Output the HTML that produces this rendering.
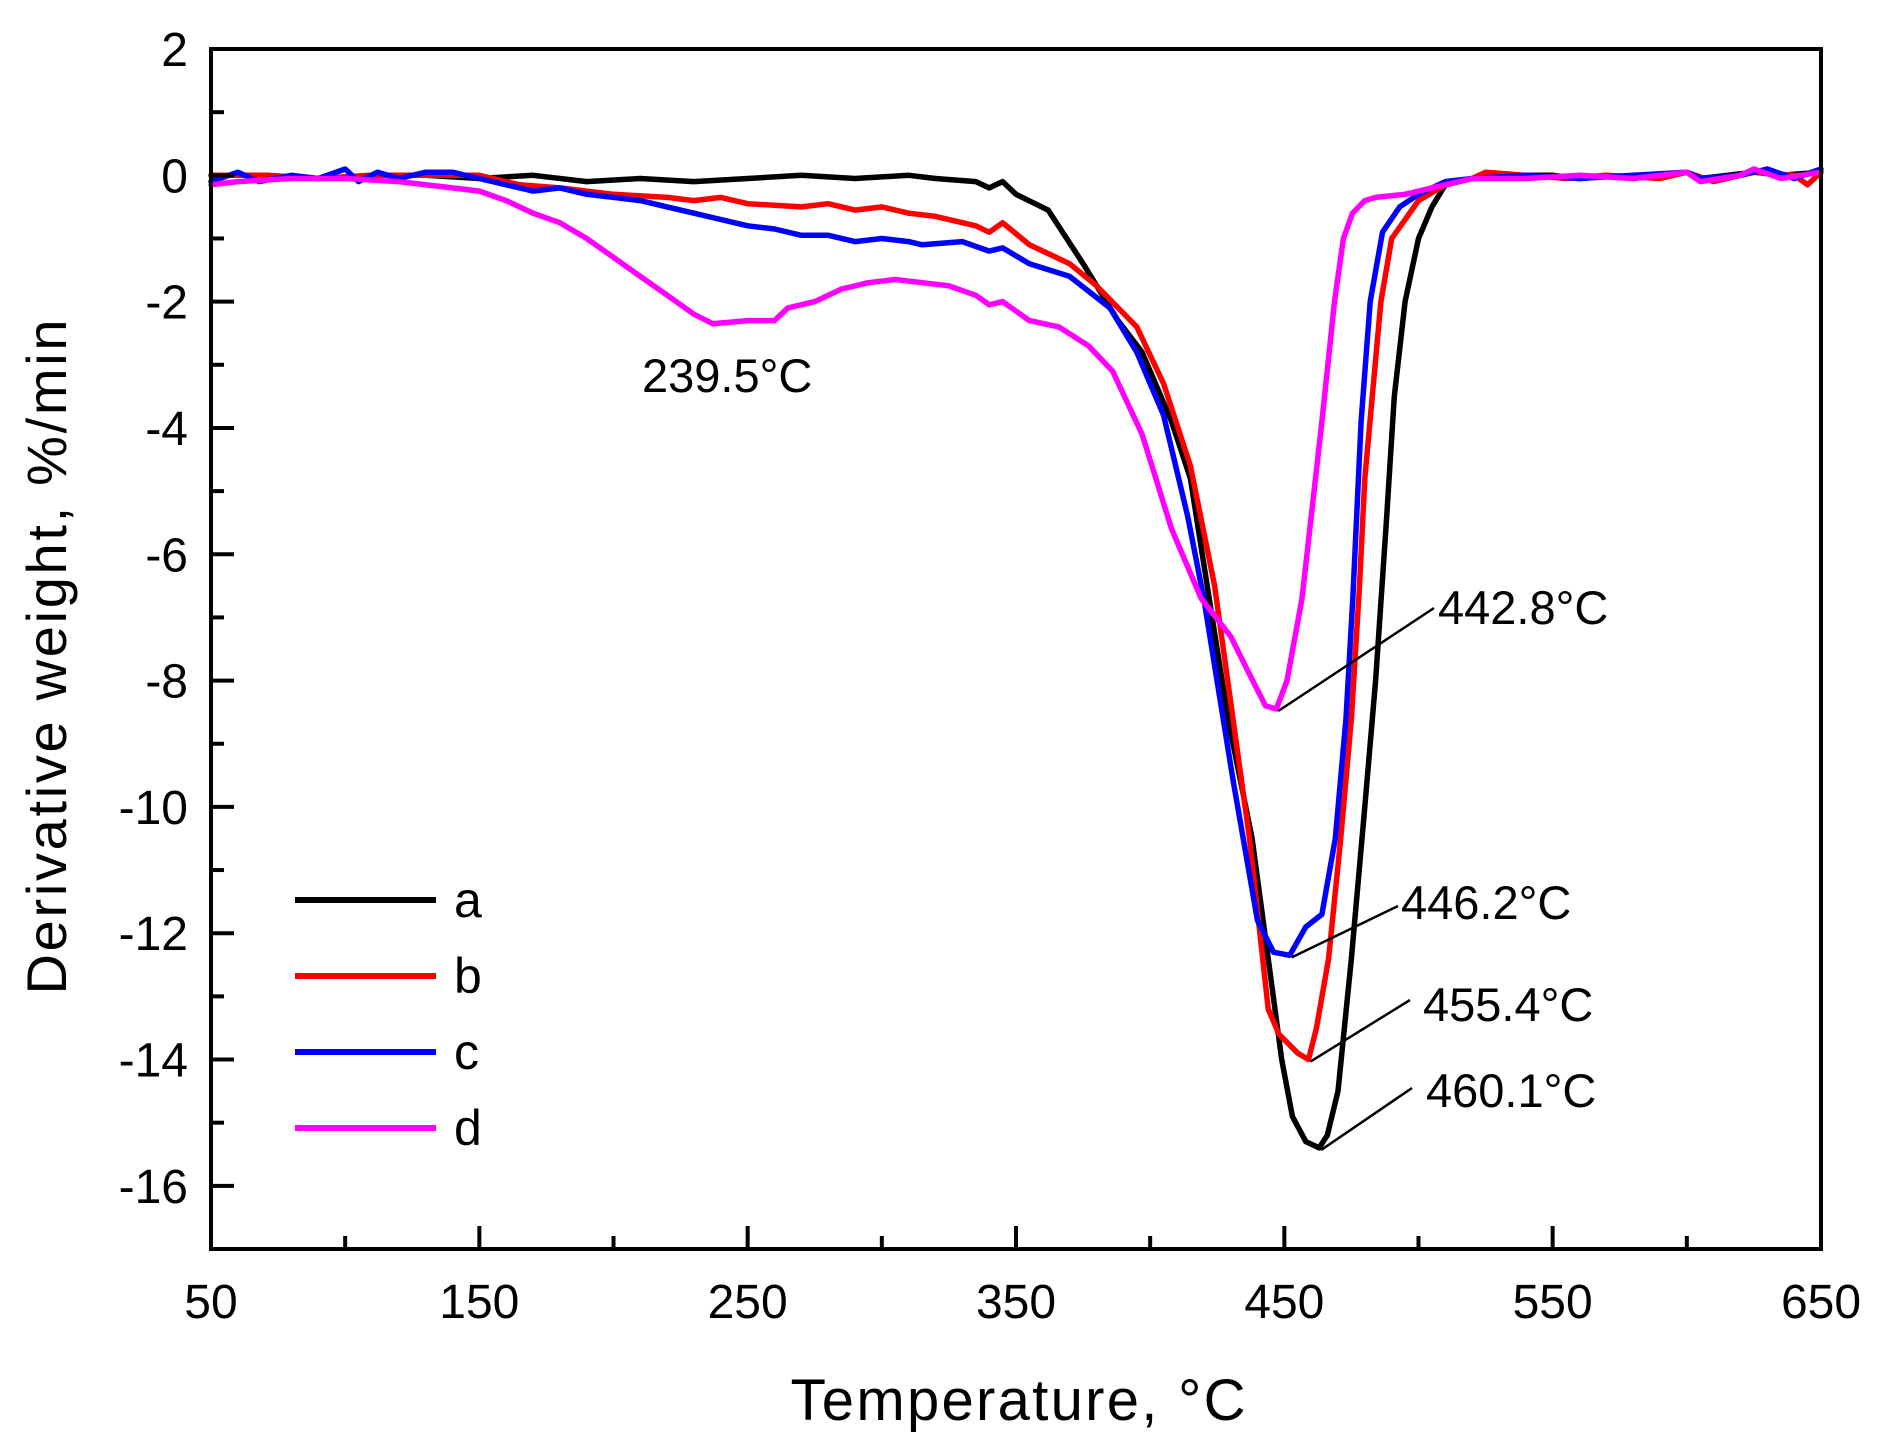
<!DOCTYPE html>
<html><head><meta charset="utf-8"><style>
html,body{margin:0;padding:0;background:#fff;}
svg{display:block;font-family:"Liberation Sans",Arial,sans-serif;}
</style></head><body>
<svg id="chart" width="1886" height="1449" viewBox="0 0 1886 1449" xmlns="http://www.w3.org/2000/svg">
<rect width="1886" height="1449" fill="#fff"/>
<g id="plot"></g>
<g id="axes"></g>
<text x="0" y="0" transform="translate(66,657) rotate(-90)" text-anchor="middle" font-size="56" textLength="675">Derivative weight, %/min</text>
<text x="1018" y="1420" text-anchor="middle" font-size="58" textLength="455">Temperature, °C</text>
</svg>
<script>
const xTicks = [50,150,250,350,450,550,650];
const xMinor = [100,200,300,400,500,600];
const yTicks = [2,0,-2,-4,-6,-8,-10,-12,-14,-16];
const yMinor = [1,-1,-3,-5,-7,-9,-11,-13,-15,-17];
const seriesNames = ['a','b','c','d'];
const seriesColors = ['#000000','#ff0000','#0000ff','#ff00ff'];
const aX = [50,70,90,110,130,150,170,190,210,230,250,270,290,310,320,335,340,345,350,362,375,388,397,408,415,429,438,444,449,453,458,463,466,470,475,480,484,488,491,495,500,505,510,520,530,540,550,560,570,580,590,600,605,615,625,635,650];
const aY = [0,0,-0.05,0,0,-0.05,0,-0.1,-0.05,-0.1,-0.05,0,-0.05,0,-0.05,-0.1,-0.2,-0.1,-0.3,-0.55,-1.4,-2.3,-2.8,-3.9,-4.8,-8.6,-10.5,-12.4,-14,-14.9,-15.3,-15.4,-15.2,-14.5,-12.4,-10,-8,-5.5,-3.5,-2,-1.0,-0.5,-0.15,-0.05,0,0,0,-0.05,0,-0.05,0,0.05,-0.05,0,0.05,0,0.05];
const bX = [50,70,90,110,130,150,165,180,200,220,230,240,250,270,280,290,300,310,320,335,340,345,355,370,380,395,405,415,424,437,444,448,455,459,462,466.5,471,475,478,480,486,490,500,510,520,525,540,555,570,590,600,610,625,640,645,650];
const bY = [0,0,-0.05,0,0,0,-0.15,-0.2,-0.3,-0.35,-0.4,-0.35,-0.45,-0.5,-0.45,-0.55,-0.5,-0.6,-0.65,-0.8,-0.9,-0.75,-1.1,-1.4,-1.75,-2.4,-3.3,-4.6,-6.5,-10.5,-13.2,-13.6,-13.9,-14.0,-13.5,-12.4,-10.5,-8.6,-6.5,-4.8,-2,-1.0,-0.4,-0.15,-0.05,0.05,0,-0.05,0,-0.05,0.05,-0.1,0.05,0,-0.15,0.05];
const cX = [50,60,68,80,90,100,105,112,120,130,140,150,160,170,180,190,200,210,220,230,240,250,260,270,280,290,300,310,315,330,340,345,355,370,385,395,405,414,420,431,440,446,452,458,464,469,473,475.5,478.6,482,486.6,493,500,510,520,540,560,580,600,605,620,630,640,650];
const cY = [-0.1,0.05,-0.1,0,-0.05,0.1,-0.1,0.05,-0.05,0.05,0.05,-0.05,-0.15,-0.25,-0.2,-0.3,-0.35,-0.4,-0.5,-0.6,-0.7,-0.8,-0.85,-0.95,-0.95,-1.05,-1.0,-1.05,-1.1,-1.05,-1.2,-1.15,-1.4,-1.6,-2.1,-2.8,-3.8,-5.4,-6.7,-9.6,-11.8,-12.3,-12.35,-11.9,-11.7,-10.5,-8.6,-6.7,-3.9,-2,-0.9,-0.5,-0.3,-0.1,-0.05,0,-0.05,0,0.05,-0.05,0,0.1,-0.05,0.1];
const dX = [50,60,80,100,120,140,150,160,170,180,190,200,210,220,230,237,250,260,265,275,285,295,305,315,325,335,340,345,355,366,377,386,397,408,419,430,437,443,447,451,456.6,464,468.7,472,475.4,480,484,495,505,520,540,560,580,600,605,620,625,635,650];
const dY = [-0.15,-0.1,-0.05,-0.05,-0.1,-0.2,-0.25,-0.4,-0.6,-0.75,-1.0,-1.3,-1.6,-1.9,-2.2,-2.35,-2.3,-2.3,-2.1,-2.0,-1.8,-1.7,-1.65,-1.7,-1.75,-1.9,-2.05,-2.0,-2.3,-2.4,-2.7,-3.1,-4.1,-5.6,-6.7,-7.3,-7.9,-8.4,-8.45,-8.0,-6.7,-3.9,-2,-1.0,-0.6,-0.4,-0.35,-0.3,-0.2,-0.05,-0.05,0,-0.05,0.05,-0.1,0,0.1,-0.05,0.05];
const seriesX = [aX,bX,cX,dX];
const seriesY = [aY,bY,cY,dY];
const peakLabels = ['239.5°C','442.8°C','446.2°C','455.4°C','460.1°C'];
const peakTemps = [237,447,452,459,463];
const peakVals = [-2.35,-8.45,-12.35,-14.0,-15.4];

const X0=211,X1=1821,Y0=49,Y1=1249;
const xs=v=>X0+(v-50)*(X1-X0)/600;
const ys=v=>Y0+(2-v)*(Y1-Y0)/19;
const NS='http://www.w3.org/2000/svg';
function mk(tag,attrs,parent){const e=document.createElementNS(NS,tag);for(const k in attrs)e.setAttribute(k,attrs[k]);parent.appendChild(e);return e;}
const plot=document.getElementById('plot'), axes=document.getElementById('axes');

for(let s=0;s<4;s++){
  let d='';
  seriesX[s].forEach((x,i)=>{d+=(i?'L':'M')+xs(x).toFixed(1)+','+ys(seriesY[s][i]).toFixed(1);});
  const p=mk('path',{d:d,fill:'none',stroke:seriesColors[s],'stroke-width':5.5,'stroke-linejoin':'round','stroke-linecap':'round'},plot);
  
  
}
const fr=mk('rect',{x:X0,y:Y0,width:X1-X0,height:Y1-Y0,fill:'none',stroke:'#000','stroke-width':4},axes);


xTicks.forEach(v=>{
  const t=mk('line',{x1:xs(v),x2:xs(v),y1:Y1,y2:Y1-23,stroke:'#000','stroke-width':4},axes);
  
  
  const l=mk('text',{x:xs(v),y:1318,'text-anchor':'middle','font-size':48},axes);
  l.textContent=v;
  
  
});
xMinor.forEach(v=>{
  const t=mk('line',{x1:xs(v),x2:xs(v),y1:Y1,y2:Y1-13,stroke:'#000','stroke-width':4},axes);
  
  
});
yTicks.forEach(v=>{
  const t=mk('line',{x1:X0,x2:X0+23,y1:ys(v),y2:ys(v),stroke:'#000','stroke-width':4},axes);
  
  
  const l=mk('text',{x:188,y:ys(v)+17,'text-anchor':'end','font-size':48},axes);
  l.textContent=v;
  
  
});
yMinor.forEach(v=>{
  const t=mk('line',{x1:X0,x2:X0+13,y1:ys(v),y2:ys(v),stroke:'#000','stroke-width':4},axes);
  
  
});
for(let s=0;s<4;s++){
  const y=900+s*76;
  const l=mk('line',{x1:295,x2:436,y1:y,y2:y,stroke:seriesColors[s],'stroke-width':6},axes);
  
  
  const t=mk('text',{x:454,y:y+17,'font-size':50},axes);
  t.textContent=seriesNames[s];
  
  
}
const lblPos=[[642,392],[1438,624],[1401,919],[1423,1021],[1426,1107]];
const leaderEnd=[null,[1434,608],[1398,906],[1410,1000],[1412,1088]];
for(let i=0;i<peakLabels.length;i++){
  const t=mk('text',{x:lblPos[i][0],y:lblPos[i][1],'font-size':47},axes);
  t.textContent=peakLabels[i];
  
  
  if(leaderEnd[i]){
    const ln=mk('line',{x1:xs(peakTemps[i])+2,y1:ys(peakVals[i])+2,x2:leaderEnd[i][0],y2:leaderEnd[i][1],stroke:'#000','stroke-width':2.5},axes);
    
    
  }
}
</script>
</body></html>
